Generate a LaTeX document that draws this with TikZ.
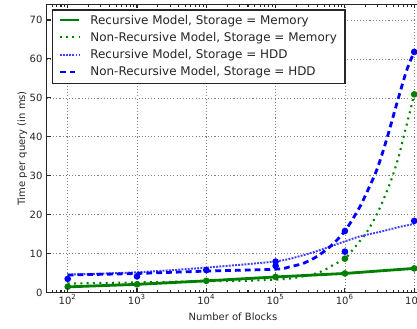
\documentclass[tikz,border=0pt]{standalone}
\usepackage{fontspec}
\setmainfont{DejaVu Sans}
\usetikzlibrary{calc}

\definecolor{mplgreen}{rgb}{0,0.5,0}
\definecolor{mplblue}{rgb}{0,0,1}

\tikzstyle{spine} = [black!85, line width=0.6pt]
\tikzstyle{gridline} = [black!50, line width=0.4pt, dash pattern=on 0.6pt off 1.2pt]
\tikzstyle{ticklabel} = [
    inner sep=0pt,
    text=black!85,
    font=\fontsize{5.7pt}{6.8pt}\selectfont
]
\tikzstyle{axislabel} = [
    inner sep=0pt,
    text=black!85,
    font=\fontsize{5.7pt}{6.8pt}\selectfont
]
\tikzstyle{keytext} = [
    inner sep=0pt,
    anchor=base west,
    text=black!85,
    font=\fontsize{6.8pt}{8pt}\selectfont
]
\tikzstyle{recmem} = [mplgreen, line width=1.6pt]
\tikzstyle{nonrecmem} = [mplgreen, line width=1.2pt, dash pattern=on 1.1pt off 2.5pt]
\tikzstyle{rechdd} = [mplblue!75, line width=1.1pt, dash pattern=on 1.1pt off 0.7pt]
\tikzstyle{nonrechdd} = [mplblue, line width=1.6pt, dash pattern=on 3.3pt off 2.3pt]
\tikzstyle{greendot} = [mplgreen]
\tikzstyle{bluedot} = [mplblue]

\begin{document}
\begin{tikzpicture}[x=1.386cm, y=0.07786cm]

% x is log10(blocks), y is ms
\useasboundingbox (1.0231,-9.119) rectangle (7.0404,75.135);
\clip (1.0231,-9.119) rectangle (7.0404,75.135);

% grid
\foreach \d in {2,...,7}
    \draw [gridline] (\d,0) -- (\d,74);
\foreach \v in {10,20,...,70}
    \draw [gridline] (1.699,\v) -- (7.07,\v);

% curves
\draw [recmem] plot coordinates {
    (2,1.45) (3,2.1) (4,3.0) (5,4.0) (6,4.9) (7,6.2)};
\draw [nonrecmem] plot [smooth] coordinates {
    (2,2.3) (3,2.6) (4,2.9) (4.5,3.0) (5,3.3) (5.25,3.7) (5.54,4.7)
    (5.71,5.8) (5.83,7.1) (6,8.7) (6.11,10.9) (6.21,13.1) (6.32,15.6)
    (6.48,20.8) (6.65,28.0) (6.77,34.5) (6.84,39.5) (6.94,46.5) (7,50.9)};
\draw [rechdd] plot [smooth] coordinates {
    (2,4.6) (3,5.2) (4,6.4) (5,8.0) (5.36,9.4) (5.64,10.9) (5.93,12.7)
    (6.21,14.4) (6.51,15.6) (6.8,16.9) (7,17.6)};
\draw [nonrechdd] plot [smooth] coordinates {
    (2,4.5) (3,4.9) (4,5.5) (5,6.0) (5.2,6.6) (5.4,7.5) (5.6,9.3)
    (5.8,12.0) (6,15.8) (6.2,21.5) (6.3,25.1) (6.46,31.5) (6.6,39.2)
    (6.75,48.6) (6.89,57.0) (7,61.8)};

% measured points
\foreach \l/\v in {2/3.5, 3/4.15, 4/5.75, 5/7.95, 5/6.85, 6/15.8, 6/10.5, 7/61.8, 7/18.4}
    \fill [bluedot] (\l,\v) circle (1.9pt);
\foreach \l/\v in {2/1.5, 3/2.1, 4/3.0, 5/4.0, 6/4.9, 6/8.7, 7/6.2, 7/50.9}
    \fill [greendot] (\l,\v) circle (1.9pt);

% axes
\draw [spine] (1.699,0) rectangle (7.07,74);

\foreach \d in {2,...,7} {
    \draw [spine] (\d,0) -- ++(0,2.3pt);
    \draw [spine] (\d,74) -- ++(0,-2.3pt);
    \node (xtick\d) [ticklabel, anchor=base] at (\d,-2.95) {10\textsuperscript{\d}};
}
\foreach \d/\kmin in {1/6, 2/2, 3/2, 4/2, 5/2, 6/2}
    \foreach \k in {\kmin,...,9} {
        \draw [spine] ({\d+log10(\k)},0) -- ++(0,1.2pt);
        \draw [spine] ({\d+log10(\k)},74) -- ++(0,-1.2pt);
    }
\foreach \v in {0,10,...,70} {
    \draw [spine] (1.699,\v) -- ++(2.3pt,0);
    \node (ytick\v) [ticklabel, anchor=east, xshift=-2.3pt] at (1.699,\v) {\v};
}

\node (xlabel) [axislabel, anchor=base] at (4.385,-7.24) {Number of Blocks};
\node (ylabel) [axislabel, anchor=base, rotate=90] at (1.384,37.0) {Time per query (in ms)};

% legend
\filldraw [fill=white, draw=black!85, line width=0.6pt] (1.778,53.8) rectangle (6.001,72.57);

\draw [recmem] (1.885,70.0) -- (2.163,70.0);
\node (key1) [keytext] at (2.322,68.97) {Recursive Model, Storage = Memory};

\draw [nonrecmem] (1.885,65.56) -- (2.163,65.56);
\node (key2) [keytext] at (2.322,64.53) {Non-Recursive Model, Storage = Memory};

\draw [rechdd] (1.885,61.10) -- (2.163,61.10);
\node (key3) [keytext] at (2.322,60.07) {Recursive Model, Storage = HDD};

\draw [nonrechdd] (1.885,56.65) -- (2.163,56.65);
\node (key4) [keytext] at (2.322,55.62) {Non-Recursive Model, Storage = HDD};

\end{tikzpicture}
\end{document}
